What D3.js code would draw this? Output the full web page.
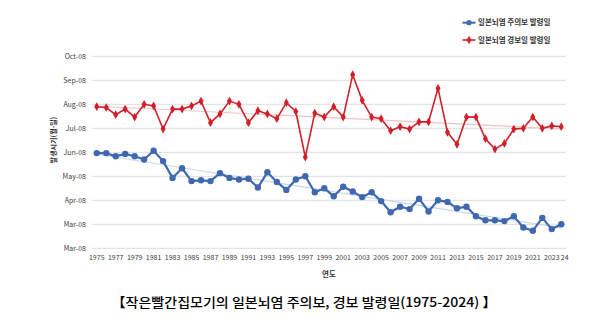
<!DOCTYPE html>
<html><head><meta charset="utf-8">
<script src="https://cdn.jsdelivr.net/npm/d3@7"></script>
<style>body{margin:0;background:#fff}svg{display:block}</style>
</head><body>
<script>
const years = d3.range(1975, 2025);
// 주의보 (alert) dates, month-day in the 2008 axis year
const alertDates = ["06-28","06-28","06-24","06-27","06-24","06-20","07-01","06-18","05-28","06-09",
  "05-24","05-25","05-24","06-03","05-28","05-26","05-27","05-16","06-04","05-23",
  "05-13","05-26","05-30","05-10","05-15","05-05","05-17","05-11","05-04","05-10",
  "04-29","04-15","04-22","04-19","05-02","04-16","04-30","04-28","04-20","04-22",
  "04-10","04-05","04-05","04-04","04-10","03-27","03-23","04-08","03-25","03-31"];
// 경보 (warning) dates
const warnDates = ["08-25","08-24","08-15","08-22","08-12","08-28","08-26","07-28","08-22","08-22",
  "08-26","09-01","08-05","08-16","09-01","08-28","08-05","08-20","08-16","08-10",
  "08-30","08-19","06-23","08-17","08-12","08-25","08-12","10-04","09-02","08-12",
  "08-10","07-26","07-31","07-28","08-06","08-06","09-17","07-24","07-09","08-12",
  "08-12","07-16","07-03","07-10","07-28","07-29","08-12","07-29","08-01","07-31"];
const seriesNames = ["일본뇌염 주의보 발령일","일본뇌염 경보일 발령일"];
const xTickLabels = years.map((y,i)=> i===years.length-1 ? "24" : (y%2===1 ? String(y) : ""));
const yStart = "2008-03-01", yEnd = "2008-10-27", yStepDays = 30;
const titleText = "【작은빨간집모기의 일본뇌염 주의보, 경보 발령일(1975-2024) 】";

const W=600,H=325;
const svg=d3.select("body").append("svg").attr("width",W).attr("height",H);
const parse = s=>new Date("2008-"+s+"T00:00:00");
const t0=new Date(yStart+"T00:00:00"), t1=new Date(yEnd+"T00:00:00");
const x=d3.scaleBand().domain(years).range([92,566]);
const xc=d=>x(d)+x.bandwidth()/2;
const y=d3.scaleTime().domain([t0,t1]).range([248.3,56.3]);
const yTicks=d3.range(0,9).map(i=>d3.timeDay.offset(t0,i*yStepDays));
const fmt=d3.timeFormat("%b-%y");
const font="'Noto Sans CJK KR','Noto Sans',sans-serif";

// grid
svg.append("g").selectAll("line").data(yTicks).join("line")
  .attr("x1",92).attr("x2",566).attr("y1",d=>y(d)).attr("y2",d=>y(d))
  .attr("stroke","#dcdcdc").attr("stroke-width",1);
// y axis labels
const yAxis=d3.axisLeft(y).tickValues(yTicks).tickFormat(fmt).tickSize(0).tickPadding(6);
const gy=svg.append("g").attr("transform","translate(92,0)").call(yAxis);
gy.select(".domain").remove();
gy.selectAll("text").attr("font-family",font).attr("font-size",7).attr("fill","#404040");
// x axis
const xAxis=d3.axisBottom(x).tickFormat((d,i)=>xTickLabels[i]).tickSize(0).tickPadding(7);
const gx=svg.append("g").attr("transform","translate(0,248.3)").call(xAxis);
gx.select(".domain").remove();
gx.selectAll("text").attr("font-family",font).attr("font-size",7).attr("fill","#404040")
  .attr("dx",(d,i)=> i===years.length-1 ? 3.5 : 0);

// trend lines (least squares)
function trend(vals){
  const n=vals.length, xs=d3.range(n), ys=vals.map(v=>+parse(v));
  const mx=d3.mean(xs), my=d3.mean(ys);
  const b=d3.sum(xs,(xi,i)=>(xi-mx)*(ys[i]-my))/d3.sum(xs,xi=>(xi-mx)*(xi-mx));
  const a=my-b*mx;
  return [[years[0],a],[years[n-1],a+b*(n-1)]];
}
const tl=d3.line().x(d=>xc(d[0])).y(d=>y(new Date(d[1])));
svg.append("path").attr("d",tl(trend(alertDates))).attr("stroke","#c6d7ef").attr("stroke-width",1.2).attr("fill","none");
svg.append("path").attr("d",tl(trend(warnDates))).attr("stroke","#f5c2c2").attr("stroke-width",1.2).attr("fill","none");

const line=d3.line().x((d,i)=>xc(years[i])).y(d=>y(parse(d)));
const blue="#4068b0", red="#d0202a";
svg.append("path").attr("d",line(warnDates)).attr("stroke",red).attr("stroke-width",1.6).attr("fill","none");
svg.append("g").selectAll("path").data(warnDates).join("path")
  .attr("d",d3.symbol(d3.symbolDiamond,22))
  .attr("transform",(d,i)=>`translate(${xc(years[i])},${y(parse(d))})`).attr("fill",red);
svg.append("path").attr("d",line(alertDates)).attr("stroke",blue).attr("stroke-width",2.2).attr("fill","none");
svg.append("g").selectAll("circle").data(alertDates).join("circle")
  .attr("cx",(d,i)=>xc(years[i])).attr("cy",d=>y(parse(d))).attr("r",3.2).attr("fill",blue);

// legend
const lg=svg.append("g");
[[blue,22.7,"c"],[red,40,"d"]].forEach((s,k)=>{
  lg.append("line").attr("x1",462.5).attr("x2",475.5).attr("y1",s[1]).attr("y2",s[1]).attr("stroke",s[0]).attr("stroke-width",k?1.6:2);
  if(s[2]==="c") lg.append("circle").attr("cx",469).attr("cy",s[1]).attr("r",2.6).attr("fill",s[0]);
  else lg.append("path").attr("d",d3.symbol(d3.symbolDiamond,20)).attr("transform",`translate(469,${s[1]})`).attr("fill",s[0]);
  lg.append("text").attr("x",478).attr("y",s[1]).attr("dy","0.35em").attr("font-family",font)
    .attr("font-size",7.5).attr("font-weight","bold").attr("fill","#333").text(seriesNames[k]);
});

// axis titles
svg.append("text").attr("transform","translate(54,140) rotate(-90)").attr("text-anchor","middle")
  .attr("dy","0.35em").attr("font-family",font).attr("font-size",7).attr("font-weight","bold").attr("fill","#333").text("발생시기(월-일)");
svg.append("text").attr("x",329).attr("y",274).attr("text-anchor","middle").attr("dy","0.35em")
  .attr("font-family",font).attr("font-size",7.5).attr("font-weight","bold").attr("fill","#333").text("연도");
svg.append("text").attr("x",304).attr("y",302.5).attr("text-anchor","middle").attr("dy","0.35em")
  .attr("font-family",font).attr("font-size",13).attr("font-weight",500).attr("fill","#000")
  .attr("textLength",385).attr("lengthAdjust","spacingAndGlyphs").text(titleText);
</script>
</body></html>
